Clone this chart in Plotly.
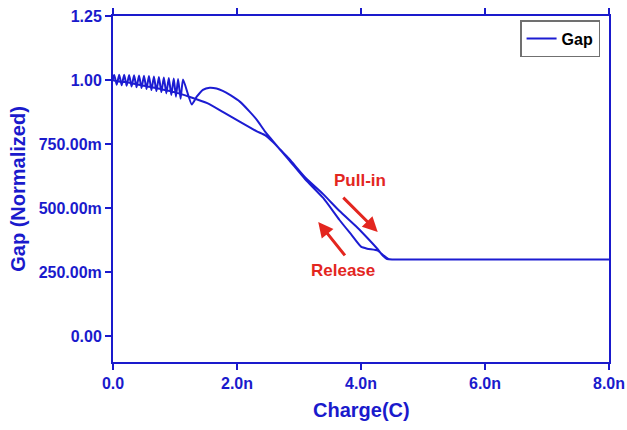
import plotly.graph_objects as go

# ---- data (charge in nC, gap normalized) ----
pullin_q = [0.00, 0.02, 0.06, 0.10, 0.14, 0.18, 0.22, 0.26, 0.30, 0.34, 0.38, 0.42, 0.46,
            0.50, 0.54, 0.58, 0.62, 0.66, 0.70, 0.74, 0.78, 0.82, 0.86, 0.90, 0.94, 0.98,
            1.015, 1.05, 1.09, 1.13, 1.27, 1.35, 1.45, 1.56, 1.67, 1.77, 1.90, 2.05, 2.20,
            2.32, 2.45, 2.58, 2.70, 2.85, 3.10, 3.39, 3.65, 3.94, 4.10, 4.27, 4.35, 4.42,
            4.50, 4.70, 8.00]
pullin_gap = [1.000, 1.020, 0.982, 1.021, 0.980, 1.021, 0.978, 1.020, 0.975, 1.019, 0.972,
              1.018, 0.969, 1.017, 0.965, 1.016, 0.961, 1.014, 0.957, 1.012, 0.953, 1.010,
              0.948, 1.008, 0.942, 1.006, 0.935, 1.004, 0.927, 1.002, 0.905, 0.935, 0.962,
              0.970, 0.967, 0.958, 0.940, 0.915, 0.878, 0.845, 0.800, 0.762, 0.728, 0.690,
              0.620, 0.555, 0.490, 0.425, 0.385, 0.340, 0.315, 0.302, 0.300, 0.300, 0.300]

release_q = [8.00, 4.70, 4.50, 4.44, 4.35, 4.27, 4.10, 4.00, 3.85, 3.65, 3.39, 3.10, 2.85,
             2.70, 2.58, 2.45, 2.32, 2.05, 1.77, 1.52, 1.24, 1.00, 0.75, 0.50, 0.25, 0.00]
release_gap = [0.300, 0.300, 0.300, 0.302, 0.318, 0.335, 0.342, 0.350, 0.395, 0.455, 0.540,
               0.613, 0.685, 0.727, 0.758, 0.785, 0.800, 0.837, 0.876, 0.910, 0.934, 0.952,
               0.966, 0.978, 0.990, 1.000]

x_tickvals = [0, 2, 4, 6, 8]
x_ticktext = ["0.0", "2.0n", "4.0n", "6.0n", "8.0n"]
y_tickvals = [0.0, 0.25, 0.5, 0.75, 1.0, 1.25]
y_ticktext = ["0.00", "250.00m", "500.00m", "750.00m", "1.00", "1.25"]

# ---- styling ----
BLUE = "#1c1cd2"
AX = "#1a1acc"
RED = "#e3261f"
FONT = "Arial, Liberation Sans, sans-serif"

fig = go.Figure()
fig.add_trace(go.Scatter(
    x=pullin_q + release_q, y=pullin_gap + release_gap,
    mode="lines", name="Gap",
    line=dict(color=BLUE, width=2, shape="spline", smoothing=0.5),
))

fig.update_layout(
    width=627, height=430,
    margin=dict(l=113, r=18, t=16, b=68),
    paper_bgcolor="white", plot_bgcolor="white",
    font=dict(family=FONT, color=AX),
    showlegend=True,
    legend=dict(x=0.982, y=0.988, xanchor="right", yanchor="top",
                bgcolor="white", bordercolor="#707070", borderwidth=1.5,
                font=dict(family=FONT, size=16, color="black", weight="bold")),
    xaxis=dict(range=[0, 8], tickvals=x_tickvals, ticktext=x_ticktext,
               showgrid=False, zeroline=False, automargin=False,
               showline=True, linecolor=AX, linewidth=2, mirror="ticks",
               ticks="outside", ticklen=6, tickwidth=2, tickcolor=AX,
               tickfont=dict(family=FONT, size=16, color=AX, weight="bold")),
    yaxis=dict(range=[-0.1, 1.25], tickvals=y_tickvals, ticktext=y_ticktext,
               showgrid=False, zeroline=False, automargin=False,
               showline=True, linecolor=AX, linewidth=2, mirror=True,
               ticks="outside", ticklen=6, tickwidth=2, tickcolor=AX,
               tickfont=dict(family=FONT, size=16, color=AX, weight="bold")),
)

annotations = [
    dict(text="Charge(C)", xref="paper", yref="paper", x=0.5, y=-0.138,
         xanchor="center", yanchor="middle", showarrow=False,
         font=dict(family=FONT, size=20, color=AX, weight="bold")),
    dict(text="Gap (Normalized)", xref="paper", yref="paper", x=-0.192, y=0.5,
         xanchor="center", yanchor="middle", showarrow=False, textangle=-90,
         font=dict(family=FONT, size=20, color=AX, weight="bold")),
    dict(text="Pull-in", xref="x", yref="y", x=3.98, y=0.608,
         showarrow=False, font=dict(family=FONT, size=17, color=RED, weight="bold")),
    dict(text="Release", xref="x", yref="y", x=3.71, y=0.256,
         showarrow=False, font=dict(family=FONT, size=17, color=RED, weight="bold")),
    dict(text="", xref="x", yref="y", x=4.27, y=0.407, axref="x", ayref="y",
         ax=3.69, ay=0.547, showarrow=True, arrowhead=2, arrowsize=1,
         arrowwidth=3, arrowcolor=RED, standoff=0),
    dict(text="", xref="x", yref="y", x=3.31, y=0.446, axref="x", ayref="y",
         ax=3.76, ay=0.31, showarrow=True, arrowhead=2, arrowsize=1,
         arrowwidth=3, arrowcolor=RED, standoff=0),
]
fig.update_layout(annotations=annotations)

fig.write_html("out.html")
